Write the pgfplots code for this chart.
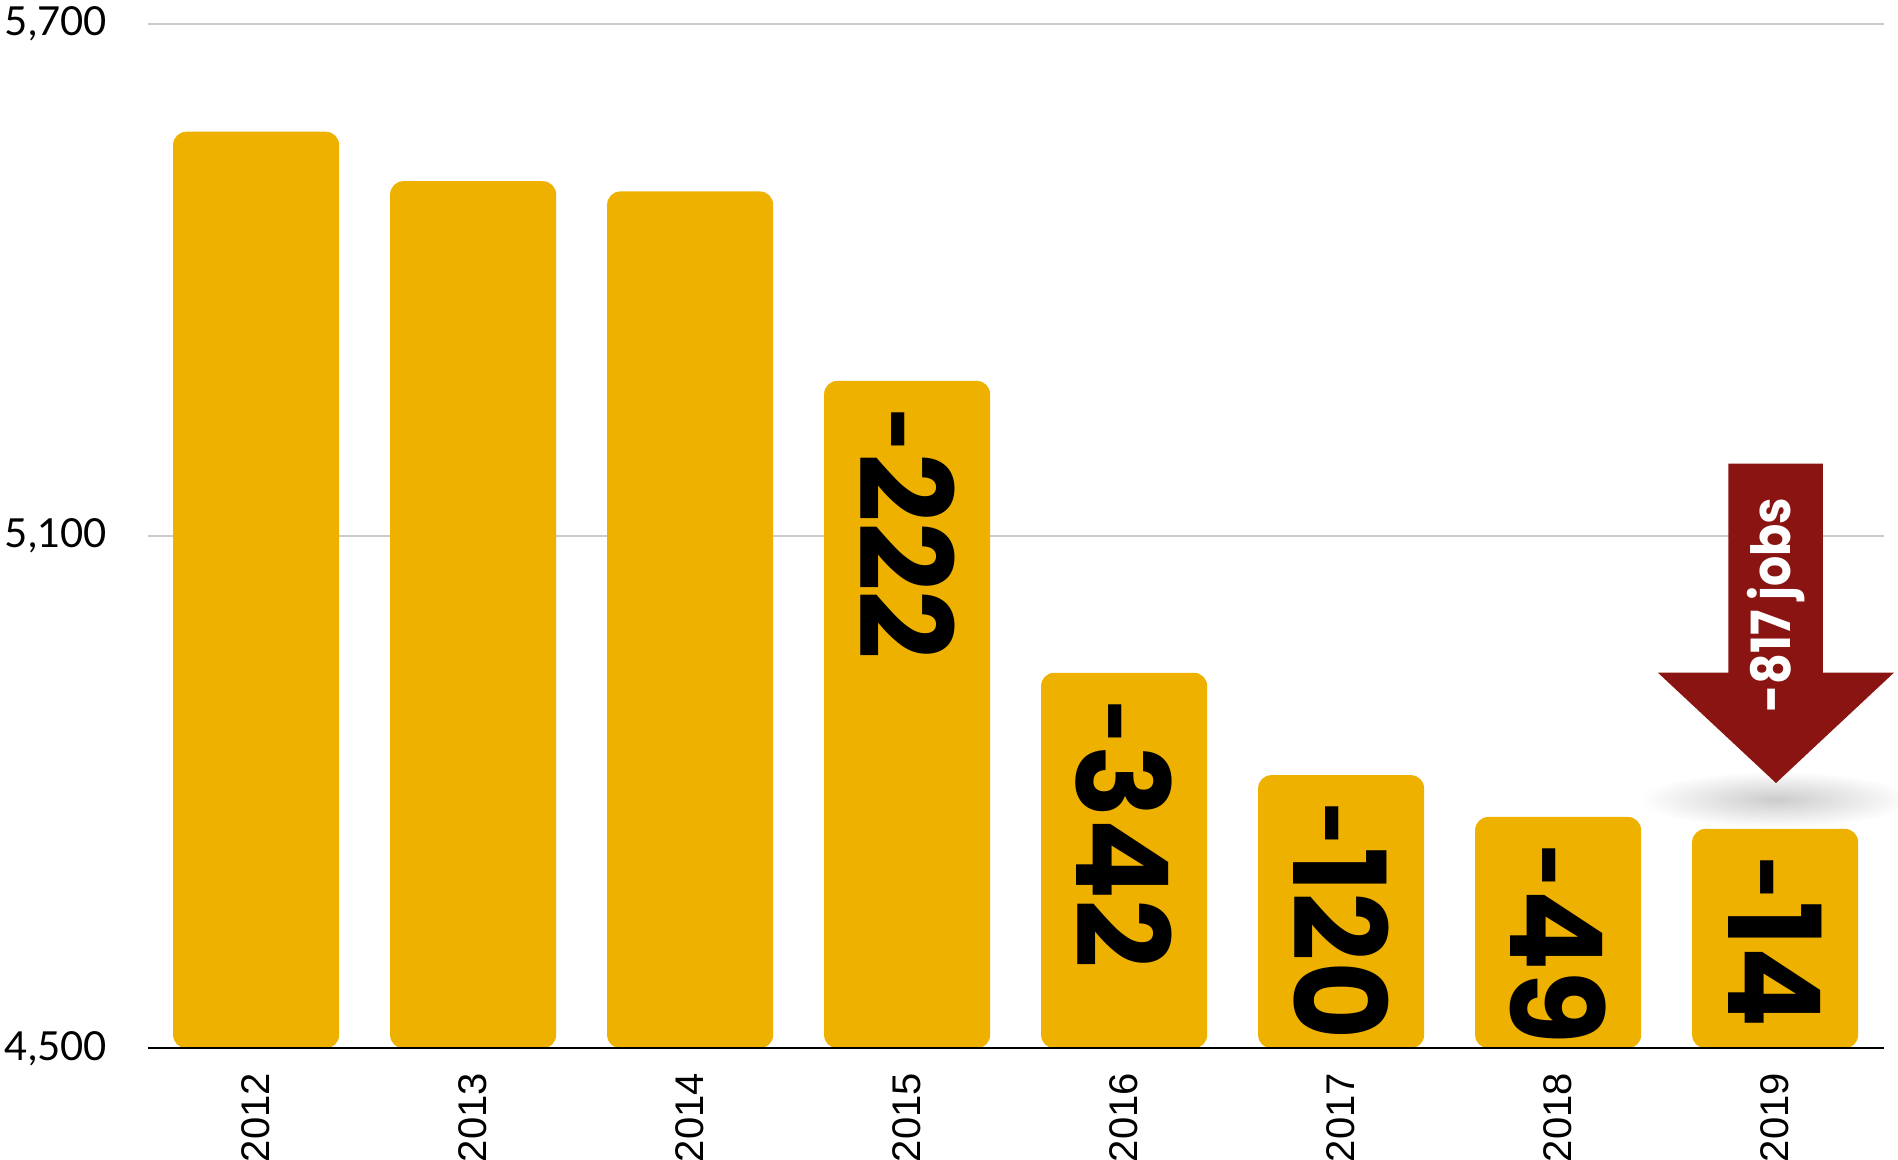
\documentclass[border=0pt]{standalone}
\usepackage{fontspec}
\setmainfont{Lato}
\newfontfamily\poppins{Poppins}[FakeStretch=0.94]
\newfontfamily\poppinsn{Poppins}[FakeStretch=0.88]
\newfontfamily\latob{Lato}
\newfontfamily\arial{Liberation Sans}
\protected\def\hy{{\latob\bfseries -}}
\usepackage{pgfplots}
\pgfplotsset{compat=1.18}
\usetikzlibrary{calc}
\definecolor{barcol}{HTML}{EFB100}
\definecolor{arrowred}{HTML}{8A1412}
\definecolor{gridgray}{HTML}{CCCCCC}

\begin{document}
\begin{tikzpicture}
\begin{axis}[
    name=ax,
    scale only axis,
    width=434pt, height=256pt,
    xmin=-0.5, xmax=7.5,
    ymin=4500, ymax=5700,
    % bars start at 4500 instead of 0
    y coord trafo/.code={\pgfmathparse{#1-4500}},
    y coord inv trafo/.code={\pgfmathparse{#1+4500}},
    ybar, bar width=41.5pt, bar shift=0pt,
    xtick={0,1,2,3,4,5,6,7},
    xticklabels={2012,2013,2014,2015,2016,2017,2018,2019},
    ytick={4500,5100,5700},
    yticklabels={4{,}500,5{,}100,5{,}700},
    major tick length=0pt,
    axis line style={draw=none},
    ymajorgrids, grid style={gridgray, line width=0.45pt},
    yticklabel style={font=\fontsize{10}{12}\selectfont, anchor=east, inner sep=0pt},
    yticklabel shift=10pt,
    xticklabel style={font=\arial\fontsize{10}{12}\selectfont, rotate=90, anchor=east, inner sep=0pt},
    xticklabel shift=6pt,
    clip=false,
]
\addplot[fill=barcol, draw=none, rounded corners=3.3pt]
    coordinates {(0,5574) (1,5516) (2,5504)};
\addplot[fill=barcol, draw=none, rounded corners=3.3pt,
    point meta=explicit symbolic,
    nodes near coords={\pgfplotspointmeta},
    every node near coord/.append style={rotate=-90, anchor=west, inner ysep=0pt, inner xsep=6pt,
        text=black, font=\poppins\bfseries\fontsize{32}{32}\selectfont}]
    coordinates {(3,5282) [\hy222] (4,4940) [\hy342] (5,4820) [\hy120] (6,4771) [\hy49] (7,4757) [\hy14]};

\draw[black, line width=0.5pt] (rel axis cs:0,0) -- (rel axis cs:1,0);

% arrow with shadow
\shade[inner color=black!20, outer color=white] (rel axis cs:0.938,0.243) ellipse [x radius=34pt, y radius=7pt];
\fill[arrowred] (rel axis cs:0.9106,0.571) -- (rel axis cs:0.965,0.571) -- (rel axis cs:0.965,0.3667)
    -- (rel axis cs:1.0059,0.3667) -- (rel axis cs:0.938,0.259) -- (rel axis cs:0.870,0.3667)
    -- (rel axis cs:0.9106,0.3667) -- cycle;
\node[rotate=90, text=white, font=\poppinsn\bfseries\fontsize{13.5}{13.5}\selectfont]
    at (rel axis cs:0.938,0.433) {-817 jobs};
\end{axis}
\pgfresetboundingbox
\path ($(ax.south west)+(-36.9pt,-27.9pt)$) rectangle ($(ax.north east)+(3.6pt,6.05pt)$);
\end{tikzpicture}
\end{document}
